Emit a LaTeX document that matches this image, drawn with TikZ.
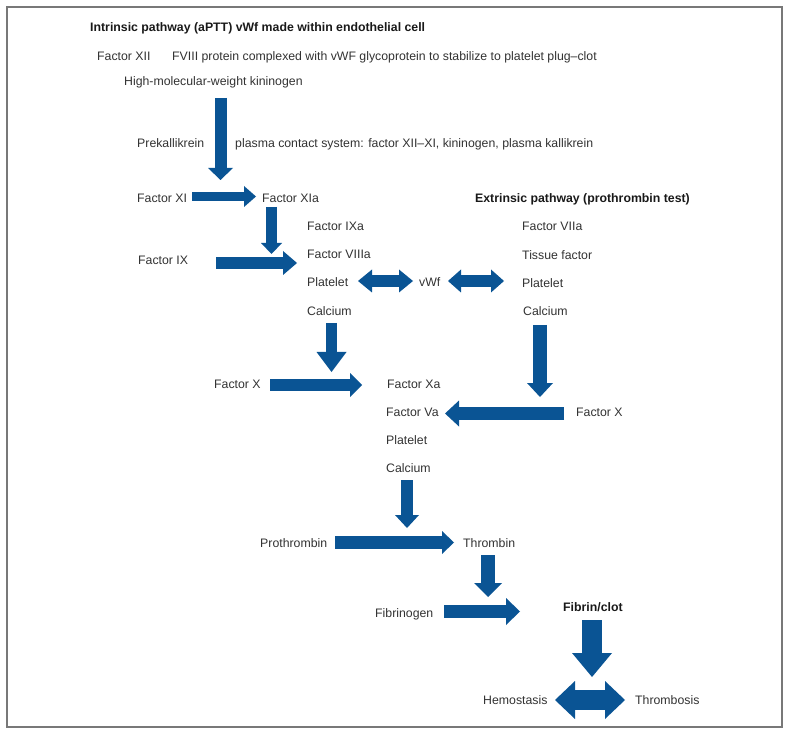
\documentclass[tikz,border=0pt]{standalone}
\usepackage{fontspec}
\setmainfont{Liberation Sans}
\usetikzlibrary{arrows.meta}
\definecolor{arrblue}{RGB}{10,84,148}
\definecolor{txtgray}{RGB}{50,50,50}
\definecolor{framegray}{RGB}{120,120,120}
\begin{document}
\begin{tikzpicture}[x=1pt,y=-1pt,
  lbl/.style={anchor=base west, inner sep=0pt, yshift=-4.4pt, text=txtgray, font=\fontsize{12.3}{14}\selectfont},
  hdr/.style={lbl, text=black!90, font=\fontsize{12.3}{14}\selectfont\bfseries},
  barrow/.style n args={3}{draw=arrblue, line width=#1, -{Triangle[width=#2, length=#3, line width=0pt]}},
  dbarrow/.style n args={3}{draw=arrblue, line width=#1, {Triangle[width=#2, length=#3, line width=0pt]}-{Triangle[width=#2, length=#3, line width=0pt]}}]
\useasboundingbox (0,0) rectangle (790,735);
\draw[framegray, line width=1.2pt] (7,7) rectangle (782,727);

% labels
\node[hdr] (intr) at (90,27) {Intrinsic pathway (aPTT) vWf made within endothelial cell};
\node[lbl] (f12) at (97,56) {Factor XII};
\node[lbl] (fviii) at (172,56) {FVIII protein complexed with vWF glycoprotein to stabilize to platelet plug–clot};
\node[lbl] (hmwk) at (124,81) {High-molecular-weight kininogen};
\node[lbl] (prek) at (137,143) {Prekallikrein};
\node[lbl] (pcs) at (235,143) {plasma contact system: factor XII–XI, kininogen, plasma kallikrein};
\node[lbl] (f11) at (137,198) {Factor XI};
\node[lbl] (f11a) at (262,198) {Factor XIa};
\node[hdr] (extr) at (475,198) {Extrinsic pathway (prothrombin test)};
\node[lbl] (f9a) at (307,226) {Factor IXa};
\node[lbl] (f8a) at (307,254) {Factor VIIIa};
\node[lbl] (plt1) at (307,282) {Platelet};
\node[lbl] (ca1) at (307,311) {Calcium};
\node[lbl] (f9) at (138,260) {Factor IX};
\node[lbl] (vwf) at (419,282) {vWf};
\node[lbl] (f7a) at (522,226) {Factor VIIa};
\node[lbl] (tf) at (522,255) {Tissue factor};
\node[lbl] (plt2) at (522,283) {Platelet};
\node[lbl] (ca2) at (523,311) {Calcium};
\node[lbl] (fxl) at (214,384) {Factor X};
\node[lbl] (fxa) at (387,384) {Factor Xa};
\node[lbl] (fva) at (386,412) {Factor Va};
\node[lbl] (plt3) at (386,440) {Platelet};
\node[lbl] (ca3) at (386,468) {Calcium};
\node[lbl] (fxr) at (576,412) {Factor X};
\node[lbl] (prot) at (260,543) {Prothrombin};
\node[lbl] (thr) at (463,543) {Thrombin};
\node[lbl] (fbg) at (375,613) {Fibrinogen};
\node[hdr] (fib) at (563,607) {Fibrin/clot};
\node[lbl] (hem) at (483,700) {Hemostasis};
\node[lbl] (thb) at (635,700) {Thrombosis};

% arrow end points
\coordinate (a1s) at (220.5,98);   \coordinate (a1e) at (220.5,180);
\coordinate (a2s) at (192,196.5);  \coordinate (a2e) at (256,196.5);
\coordinate (a3s) at (271.5,207);  \coordinate (a3e) at (271.5,254);
\coordinate (a4s) at (216,263);    \coordinate (a4e) at (297,263);
\coordinate (d1s) at (358,281);    \coordinate (d1e) at (413,281);
\coordinate (d2s) at (448,281);    \coordinate (d2e) at (504,281);
\coordinate (a5s) at (540,325);    \coordinate (a5e) at (540,397);
\coordinate (a6s) at (564,413.5);  \coordinate (a6e) at (445,413.5);
\coordinate (a7s) at (331.5,323);  \coordinate (a7e) at (331.5,372);
\coordinate (a8s) at (270,385);    \coordinate (a8e) at (362,385);
\coordinate (a9s) at (407,480);    \coordinate (a9e) at (407,528);
\coordinate (a10s) at (335,542.5); \coordinate (a10e) at (454,542.5);
\coordinate (a11s) at (488,555);   \coordinate (a11e) at (488,597);
\coordinate (a12s) at (444,611.5); \coordinate (a12e) at (520,611.5);
\coordinate (a13s) at (592,620);   \coordinate (a13e) at (592,677);
\coordinate (d3s) at (555,700);    \coordinate (d3e) at (625,700);

% block arrows
\draw[barrow={12pt}{25pt}{12pt}] (a1s) -- (a1e);
\draw[barrow={9.5pt}{21pt}{12pt}] (a2s) -- (a2e);
\draw[barrow={11pt}{21pt}{11pt}] (a3s) -- (a3e);
\draw[barrow={12pt}{24pt}{14pt}] (a4s) -- (a4e);
\draw[dbarrow={12pt}{23pt}{14pt}] (d1s) -- (d1e);
\draw[dbarrow={12pt}{23pt}{13pt}] (d2s) -- (d2e);
\draw[barrow={14pt}{26pt}{14pt}] (a5s) -- (a5e);
\draw[barrow={13pt}{26pt}{14pt}] (a6s) -- (a6e);
\draw[barrow={11pt}{30pt}{20pt}] (a7s) -- (a7e);
\draw[barrow={12pt}{24pt}{12pt}] (a8s) -- (a8e);
\draw[barrow={12pt}{24pt}{13pt}] (a9s) -- (a9e);
\draw[barrow={13pt}{23pt}{12pt}] (a10s) -- (a10e);
\draw[barrow={14pt}{28pt}{14pt}] (a11s) -- (a11e);
\draw[barrow={13pt}{27pt}{14pt}] (a12s) -- (a12e);
\draw[barrow={20pt}{40pt}{24pt}] (a13s) -- (a13e);
\draw[dbarrow={20pt}{38pt}{20pt}] (d3s) -- (d3e);
\end{tikzpicture}
\end{document}
